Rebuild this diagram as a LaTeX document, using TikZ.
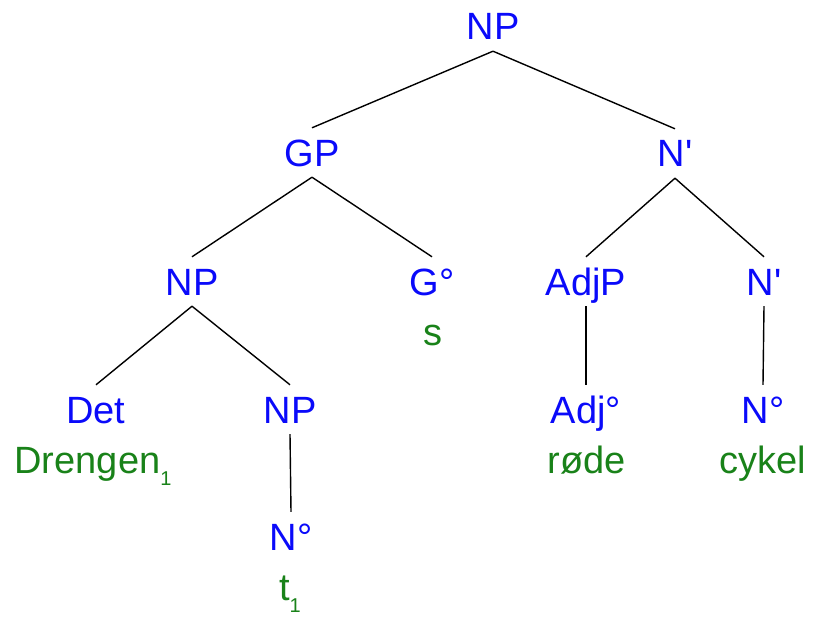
\documentclass[tikz,border=0pt]{standalone}
\usepackage{fontspec}
\setmainfont{Liberation Sans}
\definecolor{catblue}{RGB}{10,10,250}
\definecolor{wordgreen}{RGB}{25,130,25}
\newcommand{\subone}{\raisebox{-12pt}{\fontsize{20}{20}\selectfont 1}}
\begin{document}
\begin{tikzpicture}[x=1pt,y=-1pt,
  lab/.style={anchor=base,text=catblue,font=\fontsize{38}{40}\selectfont,
    text height=27pt,text depth=0pt,inner xsep=0pt,inner ysep=11pt},
  word/.style={anchor=base,text=wordgreen,font=\fontsize{38}{40}\selectfont,
    inner sep=0pt},
  edge/.style={draw=black,line width=1.4pt}]
\useasboundingbox (0,0) rectangle (815,618);
% categories
\node[lab] (np0) at (493,40) {NP};
\node[lab] (gp) at (312,166) {GP};
\node[lab] (nb1) at (675,167) {N\textquotesingle};
\node[lab] (np1) at (192,295) {NP};
\node[lab] (g0) at (432,295) {G°};
\node[lab] (adjp) at (586,295) {AdjP};
\node[lab] (nb2) at (764,295) {N\textquotesingle};
\node[lab] (det) at (96,423) {Det};
\node[lab] (np2) at (290,423) {NP};
\node[lab] (adj0) at (586,423) {Adj°};
\node[lab] (n0r) at (763,423) {N°};
\node[lab] (n0l) at (291,550) {N°};
% words
\node[word] (ws) at (433,345) {s};
\node[word] (wdreng) at (93,473) {Drengen\subone};
\node[word] (wrode) at (587,473) {røde};
\node[word] (wcykel) at (763,473) {cykel};
\node[word] (wt) at (290,600) {t\subone};
% edges
\draw[edge] (np0.south) -- (gp.north);
\draw[edge] (np0.south) -- (nb1.north);
\draw[edge] (gp.south) -- (np1.north);
\draw[edge] (gp.south) -- (g0.north);
\draw[edge] (nb1.south) -- (adjp.north);
\draw[edge] (nb1.south) -- (nb2.north);
\draw[edge] (np1.south) -- (det.north);
\draw[edge] (np1.south) -- (np2.north);
\draw[edge] (adjp.south) -- (adj0.north);
\draw[edge] (nb2.south) -- (n0r.north);
\draw[edge] (np2.south) -- (n0l.north);
\end{tikzpicture}
\end{document}
